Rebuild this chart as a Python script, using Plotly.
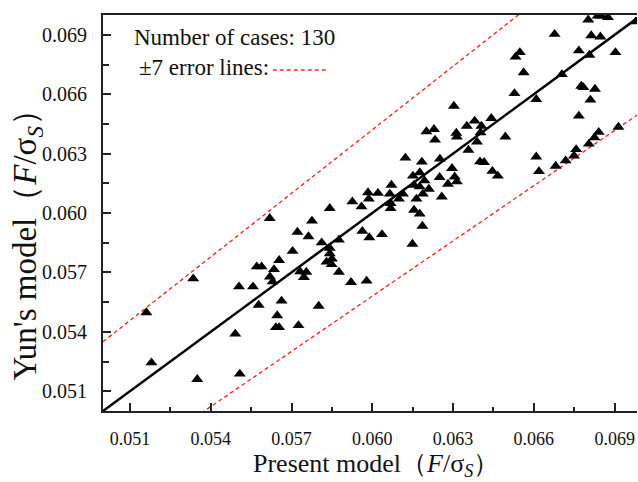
import plotly.graph_objects as go

# Present model (x) and Yun's model (y), F/sigma_s
present_model = [
    0.05161, 0.05180, 0.05335, 0.05350, 0.05491, 0.05505, 0.05508, 0.05557, 0.05571, 0.05578,
    0.05589, 0.05619, 0.05620, 0.05630, 0.05635, 0.05642, 0.05654, 0.05647, 0.05654, 0.05663,
    0.05704, 0.05722, 0.05726, 0.05732, 0.05755, 0.05746, 0.05763, 0.05776, 0.05801, 0.05812,
    0.05842, 0.05842, 0.05842, 0.05850, 0.05830, 0.05849, 0.05876, 0.05876, 0.05921, 0.05926,
    0.05960, 0.05963, 0.05979, 0.05984, 0.05987, 0.05989, 0.06021, 0.06036, 0.06065, 0.06068,
    0.06068, 0.06071, 0.06099, 0.06114, 0.06123, 0.06149, 0.06151, 0.06155, 0.06155, 0.06164,
    0.06176, 0.06176, 0.06176, 0.06184, 0.06186, 0.06188, 0.06194, 0.06201, 0.06210, 0.06229,
    0.06233, 0.06250, 0.06251, 0.06258, 0.06281, 0.06296, 0.06303, 0.06306, 0.06312, 0.06314,
    0.06314, 0.06351, 0.06357, 0.06380, 0.06389, 0.06405, 0.06402, 0.06400, 0.06415, 0.06442,
    0.06446, 0.06466, 0.06494, 0.06528, 0.06532, 0.06548, 0.06562, 0.06609, 0.06609, 0.06619,
    0.06677, 0.06681, 0.06704, 0.06718, 0.06749, 0.06757, 0.06767, 0.06767, 0.06776, 0.06784,
    0.06802, 0.06804, 0.06806, 0.06810, 0.06813, 0.06825, 0.06827, 0.06837, 0.06841, 0.06847,
    0.06850, 0.06875, 0.06903, 0.06914, 0.06979,
]
yun_model = [
    0.05497, 0.05244, 0.05668, 0.05160, 0.05389, 0.05628, 0.05187, 0.05628, 0.05729, 0.05535,
    0.05729, 0.05973, 0.05678, 0.05653, 0.05715, 0.05422, 0.05422, 0.05482, 0.05761, 0.05556,
    0.05807, 0.05904, 0.05432, 0.05704, 0.05702, 0.05675, 0.05881, 0.05960, 0.05530, 0.05850,
    0.06024, 0.05822, 0.05795, 0.05768, 0.05753, 0.05740, 0.05864, 0.05702, 0.05650, 0.06057,
    0.06032, 0.05908, 0.05657, 0.06103, 0.06071, 0.05876, 0.06100, 0.05892, 0.06096, 0.06049,
    0.06024, 0.06141, 0.06071, 0.06096, 0.06278, 0.05843, 0.06187, 0.06141, 0.06015, 0.06071,
    0.06204, 0.06133, 0.05995, 0.06258, 0.05934, 0.06096, 0.06163, 0.06411, 0.06121, 0.06423,
    0.06369, 0.06180, 0.06273, 0.06082, 0.06146, 0.06226, 0.06540, 0.06183, 0.06404, 0.06385,
    0.06158, 0.06439, 0.06318, 0.06465, 0.06359, 0.06439, 0.06406, 0.06259, 0.06256, 0.06478,
    0.06211, 0.06187, 0.06385, 0.06604, 0.06788, 0.06811, 0.06709, 0.06574, 0.06284, 0.06210,
    0.06903, 0.06237, 0.06700, 0.06264, 0.06289, 0.06321, 0.06820, 0.06490, 0.06641, 0.06634,
    0.06976, 0.06349, 0.06798, 0.06571, 0.06896, 0.06381, 0.06626, 0.06995, 0.06408, 0.06890,
    0.06995, 0.06988, 0.06811, 0.06434, 0.06966,
]

axis_min = 0.050
axis_max = 0.070
x_view_max = 0.06983
error_pct = 7
tick_vals = [0.051, 0.054, 0.057, 0.060, 0.063, 0.066, 0.069]
tick_text = ["0.051", "0.054", "0.057", "0.060", "0.063", "0.066", "0.069"]

line_x = [axis_min, axis_max]
upper_y = [v * (1 + error_pct / 100) for v in line_x]
lower_y = [v * (1 - error_pct / 100) for v in line_x]

SERIF = "Liberation Serif, Times New Roman, serif"
RED = "#ff2a2a"

fig = go.Figure()
fig.add_trace(go.Scatter(x=line_x, y=upper_y, mode="lines",
                         line=dict(color=RED, width=1.4, dash="4px,3px"),
                         hoverinfo="skip", showlegend=False))
fig.add_trace(go.Scatter(x=line_x, y=lower_y, mode="lines",
                         line=dict(color=RED, width=1.4, dash="4px,3px"),
                         hoverinfo="skip", showlegend=False))
fig.add_trace(go.Scatter(x=line_x, y=line_x, mode="lines",
                         line=dict(color="black", width=2.5),
                         hoverinfo="skip", showlegend=False))
fig.add_trace(go.Scatter(x=present_model, y=yun_model, mode="markers",
                         marker=dict(symbol="triangle-up", size=10.5, color="black",
                                     line=dict(width=0)),
                         showlegend=False))


def axis_style(font_size, minor_len):
    return dict(
        showline=True, linecolor="#222222", linewidth=2,
        ticks="inside", ticklen=8, tickwidth=1.5, tickcolor="#222222",
        tickvals=tick_vals, ticktext=tick_text,
        showgrid=False, zeroline=False,
        tickfont=dict(family=SERIF, size=font_size, color="#111111"),
        minor=dict(ticks="inside", ticklen=minor_len, tickwidth=1.5, tickcolor="#222222",
                   dtick=0.0015, tick0=0.051, showgrid=False),
    )


fig.update_xaxes(range=[axis_min, x_view_max], mirror=True, ticklabelstandoff=10,
                 **axis_style(18, 4))
fig.update_yaxes(range=[axis_min, axis_max], mirror=False, ticklabelstandoff=10,
                 **axis_style(20, 6))

# axis titles
fig.add_annotation(xref="paper", yref="paper", x=0.512, y=-0.137, xanchor="center",
                   yanchor="middle", showarrow=False,
                   text="Present model（<i>F</i>/σ<sub><i>S</i></sub>）",
                   font=dict(family=SERIF, size=26, color="#111111"))
fig.add_annotation(xref="paper", yref="paper", x=-0.141, y=0.44, xanchor="center",
                   yanchor="middle", showarrow=False, textangle=-90,
                   text="Yun's model（<i>F</i>/σ<sub><i>S</i></sub>）",
                   font=dict(family=SERIF, size=33, color="#111111"))

fig.add_annotation(xref="paper", yref="paper", x=0.054, y=0.944, xanchor="left",
                   yanchor="middle", showarrow=False, text="Number of cases: 130",
                   font=dict(family=SERIF, size=23, color="#111111"))
fig.add_annotation(xref="paper", yref="paper", x=0.063, y=0.867, xanchor="left",
                   yanchor="middle", showarrow=False, text="±7 error lines:",
                   font=dict(family=SERIF, size=23, color="#111111"))
fig.add_shape(type="line", xref="paper", yref="paper", x0=0.318, x1=0.419,
              y0=0.861, y1=0.861, line=dict(color=RED, width=1.4, dash="4px,3px"))

fig.update_layout(width=638, height=482, plot_bgcolor="white", paper_bgcolor="white",
                  margin=dict(l=103, r=1, t=15, b=71))

fig.write_html("out.html")
